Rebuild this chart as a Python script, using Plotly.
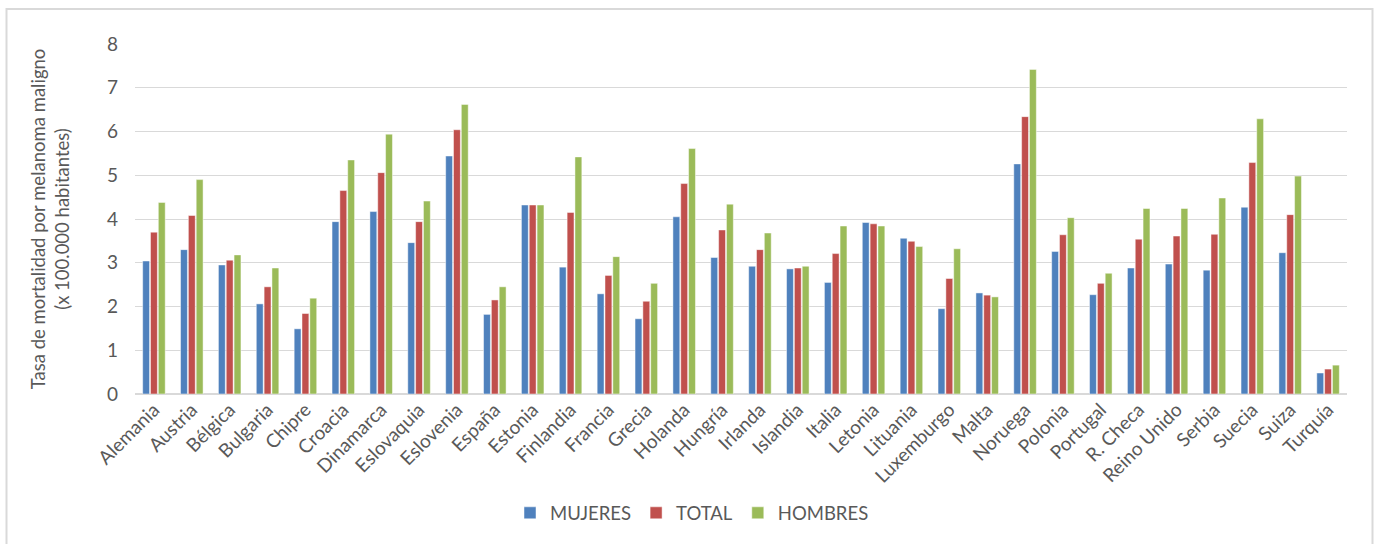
import plotly.graph_objects as go

paises = ["Alemania", "Austria", "Bélgica", "Bulgaria", "Chipre", "Croacia", "Dinamarca",
          "Eslovaquia", "Eslovenia", "España", "Estonia", "Finlandia", "Francia", "Grecia",
          "Holanda", "Hungría", "Irlanda", "Islandia", "Italia", "Letonia", "Lituania",
          "Luxemburgo", "Malta", "Noruega", "Polonia", "Portugal", "R. Checa", "Reino Unido",
          "Serbia", "Suecia", "Suiza", "Turquía"]

mujeres = [3.04, 3.30, 2.95, 2.06, 1.49, 3.94, 4.17, 3.46, 5.44, 1.82, 4.32, 2.90, 2.29, 1.72,
           4.05, 3.12, 2.92, 2.86, 2.55, 3.92, 3.56, 1.95, 2.31, 5.26, 3.26, 2.27, 2.88, 2.97,
           2.83, 4.27, 3.23, 0.48]
total = [3.70, 4.08, 3.06, 2.45, 1.84, 4.65, 5.06, 3.94, 6.04, 2.15, 4.32, 4.15, 2.71, 2.12,
         4.81, 3.75, 3.30, 2.88, 3.21, 3.89, 3.49, 2.64, 2.26, 6.34, 3.64, 2.53, 3.54, 3.61,
         3.65, 5.29, 4.10, 0.57]
hombres = [4.38, 4.90, 3.18, 2.88, 2.19, 5.35, 5.94, 4.41, 6.62, 2.45, 4.32, 5.42, 3.14, 2.53,
           5.61, 4.34, 3.68, 2.92, 3.84, 3.84, 3.37, 3.32, 2.22, 7.42, 4.03, 2.76, 4.24, 4.24,
           4.48, 6.29, 4.98, 0.66]

series = [("MUJERES", mujeres, "#4F81BD"), ("TOTAL", total, "#C0504D"), ("HOMBRES", hombres, "#9BBB59")]

FONT = "Lato"
GREY = "#595959"

fig = go.Figure()
for name, vals, color in series:
    fig.add_trace(go.Bar(x=paises, y=vals, name=name,
                         marker=dict(color=color, line=dict(color="rgba(255,255,255,0.6)", width=0.8))))

W, H = 1378, 544
L, R, T, B = 135, 31, 44, 145
pw, ph = W - L - R, H - T - B

def px_x(p):
    return (p - L) / pw

def px_y(p):
    return (H - B - p) / ph

fig.update_layout(
    width=W, height=H,
    margin=dict(l=L, r=R, t=T, b=B),
    paper_bgcolor="white", plot_bgcolor="white",
    barmode="group", bargap=0.38, bargroupgap=0.12,
    font=dict(family=FONT, color=GREY, size=18),
    showlegend=True,
    legend=dict(orientation="h", x=px_x(692), y=px_y(520), xanchor="center", yanchor="middle",
                font=dict(size=18.5, color=GREY), itemwidth=30, traceorder="normal"),
    xaxis=dict(tickangle=-45, showgrid=False, showline=False, ticks="",
               tickfont=dict(size=19, color=GREY), automargin=False),
    yaxis=dict(range=[0, 8], dtick=1, showgrid=True, gridcolor="#D9D9D9", gridwidth=1,
               zeroline=True, zerolinecolor="#D9D9D9", zerolinewidth=1.5,
               showline=False, ticks="", ticklabelstandoff=16,
               tickfont=dict(size=19, color=GREY), automargin=False,
               title=dict(text="Tasa de mortalidad por melanoma maligno<br>(x 100.000 habitantes)",
                          font=dict(size=18.5, color=GREY), standoff=32)),
    shapes=[dict(type="rect", xref="paper", yref="paper",
                 x0=px_x(6.5), x1=px_x(1372.5), y0=px_y(560), y1=px_y(8.5),
                 line=dict(color="#D9D9D9", width=2), fillcolor="rgba(0,0,0,0)", layer="below")],
)

fig.write_html("out.html")
